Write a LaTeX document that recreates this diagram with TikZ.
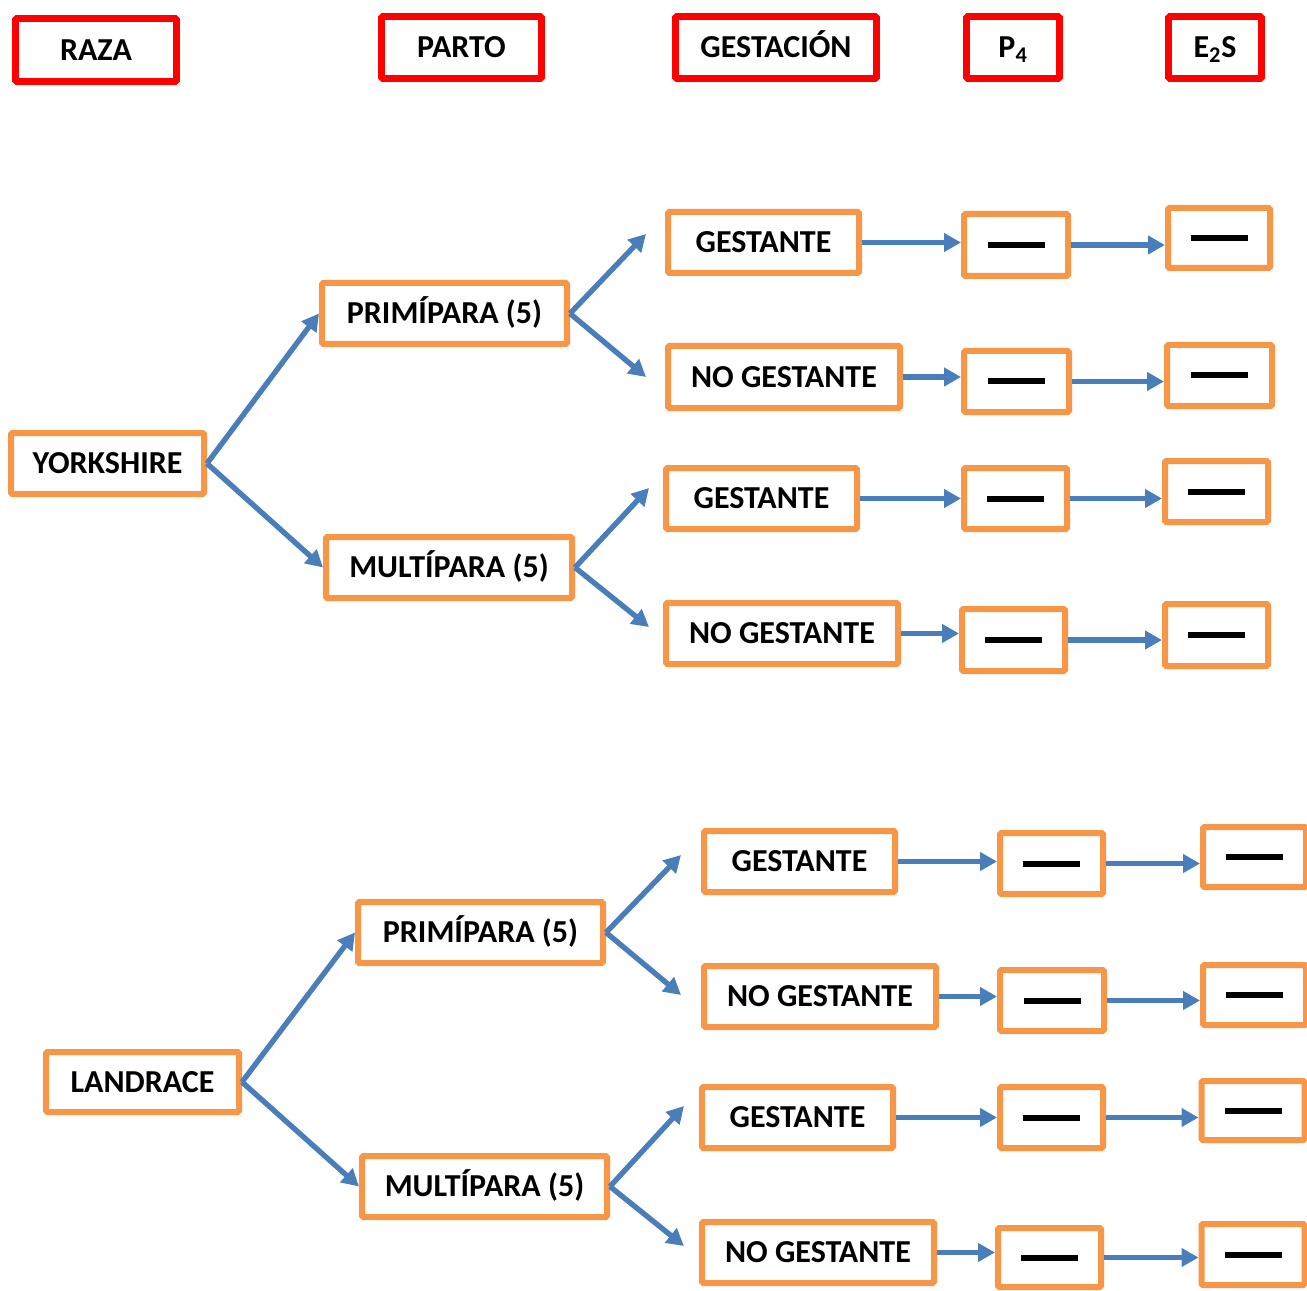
\documentclass[tikz,border=0pt]{standalone}
\usepackage{fontspec}
\setmainfont{Carlito}
\usetikzlibrary{arrows.meta}
\definecolor{boxorange}{HTML}{F79646}
\definecolor{boxred}{HTML}{FF0000}
\definecolor{arrowblue}{HTML}{4A7EBB}
\newcommand{\mydashbar}{\rule{42.75pt}{4.5pt}}
\tikzset{
  lbl/.style={font=\bfseries\fontsize{24}{28}\selectfont, text height=15.4pt, text depth=0pt},
  hbox/.style={lbl, draw=boxred, line width=4.9pt, inner sep=0pt, rounded corners=1pt},
  obox/.style={lbl, draw=boxorange, line width=4.5pt, inner sep=0pt, rounded corners=1pt},
  dbox/.style={draw=boxorange, line width=4.5pt, inner sep=0pt, rounded corners=1pt},
  conn/.style={draw=arrowblue, line width=4pt, -{Triangle[length=12.75pt,width=13.5pt]}},
  sz/.style 2 args={minimum width=(#1-1)*0.75pt, minimum height=(#2-1)*0.75pt}
}
\begin{document}
\begin{tikzpicture}[x=0.75pt,y=-0.75pt]
\fill[white] (0,0) rectangle (1307,1291);
\useasboundingbox (0,0) rectangle (1307,1291);
% headers
\node[hbox, sz={162}{64}] (hraza) at (96,50) {RAZA};
\node[hbox, sz={161}{63}] (hparto) at (461.5,47.5) {PARTO};
\node[hbox, sz={202}{63}] (hgest) at (776,47.5) {GESTACIÓN};
\node[hbox, sz={94}{63}] (hp) at (1013,47.5) {P\textsubscript{4}};
\node[hbox, sz={94}{63}] (he) at (1215,47.5) {E\textsubscript{2}S};
% Yorkshire group
\node[obox, sz={194}{62}] (york) at (107.5,463.5) {YORKSHIRE};
\node[obox, sz={246}{62}] (prim1) at (444.5,313.5) {PRIMÍPARA (5)};
\node[obox, sz={247}{62}] (mult1) at (449,567.5) {MULTÍPARA (5)};
\node[obox, sz={192}{62}] (g1a) at (763.5,242.5) {GESTANTE};
\node[obox, sz={233}{63}] (n1a) at (784,377) {NO GESTANTE};
\node[obox, sz={192}{62}] (g1b) at (761.5,498.5) {GESTANTE};
\node[obox, sz={233}{62}] (n1b) at (782,633.5) {NO GESTANTE};
\node[dbox, sz={105}{63}] (p1a) at (1016,245) {\mydashbar};
\node[dbox, sz={106}{62}] (p1b) at (1016.5,381.5) {\mydashbar};
\node[dbox, sz={104}{62}] (p1c) at (1015.5,498.5) {\mydashbar};
\node[dbox, sz={104}{63}] (p1d) at (1013.5,640) {\mydashbar};
\node[dbox, sz={103}{61}] (e1a) at (1219,238) {\mydashbar};
\node[dbox, sz={106}{62}] (e1b) at (1219.5,375.5) {\mydashbar};
\node[dbox, sz={104}{62}] (e1c) at (1216.5,491.5) {\mydashbar};
\node[dbox, sz={104}{63}] (e1d) at (1216.5,635) {\mydashbar};
% Landrace group
\node[obox, sz={194}{61}] (land) at (142.5,1082) {LANDRACE};
\node[obox, sz={246}{62}] (prim2) at (480.5,932.5) {PRIMÍPARA (5)};
\node[obox, sz={246}{62}] (mult2) at (484.5,1186.5) {MULTÍPARA (5)};
\node[obox, sz={192}{62}] (g2a) at (799.5,861.5) {GESTANTE};
\node[obox, sz={233}{62}] (n2a) at (820,996.5) {NO GESTANTE};
\node[obox, sz={192}{62}] (g2b) at (797.5,1117.5) {GESTANTE};
\node[obox, sz={233}{62}] (n2b) at (818,1252.5) {NO GESTANTE};
\node[dbox, sz={104}{62}] (p2a) at (1051.5,863.5) {\mydashbar};
\node[dbox, sz={105}{62}] (p2b) at (1052,1000.5) {\mydashbar};
\node[dbox, sz={104}{62}] (p2c) at (1051.5,1117.5) {\mydashbar};
\node[dbox, sz={104}{60}] (p2d) at (1049.5,1257.5) {\mydashbar};
\node[dbox, sz={104}{61}] (e2a) at (1254.5,857) {\mydashbar};
\node[dbox, sz={104}{61}] (e2b) at (1254.5,995) {\mydashbar};
\node[dbox, sz={104}{60}] (e2c) at (1253,1110.5) {\mydashbar};
\node[dbox, sz={104}{62}] (e2d) at (1253,1254.5) {\mydashbar};
% free arrow tips
\coordinate (t1a) at (646,234);
\coordinate (t1b) at (646,377);
\coordinate (t1c) at (649,488);
\coordinate (t1d) at (649,627);
\coordinate (t2a) at (681,855);
\coordinate (t2b) at (681,995);
\coordinate (t2c) at (684,1106);
\coordinate (t2d) at (684,1246);
% connectors Yorkshire
\draw[conn] (york.east) -- (prim1.west);
\draw[conn] (york.east) -- (mult1.west);
\draw[conn] (prim1.east) -- (t1a);
\draw[conn] (prim1.east) -- (t1b);
\draw[conn] (mult1.east) -- (t1c);
\draw[conn] (mult1.east) -- (t1d);
\draw[conn] (g1a.east) -- (g1a.east -| p1a.west);
\draw[conn] (n1a.east) -- (n1a.east -| p1b.west);
\draw[conn] (g1b.east) -- (g1b.east -| p1c.west);
\draw[conn] (n1b.east) -- (n1b.east -| p1d.west);
\draw[conn] (p1a.east) -- (p1a.east -| e1a.west);
\draw[conn] (p1b.east) -- (p1b.east -| e1b.west);
\draw[conn] (p1c.east) -- (p1c.east -| e1c.west);
\draw[conn] (p1d.east) -- (p1d.east -| e1d.west);
% connectors Landrace
\draw[conn] (land.east) -- (prim2.west);
\draw[conn] (land.east) -- (mult2.west);
\draw[conn] (prim2.east) -- (t2a);
\draw[conn] (prim2.east) -- (t2b);
\draw[conn] (mult2.east) -- (t2c);
\draw[conn] (mult2.east) -- (t2d);
\draw[conn] (g2a.east) -- (g2a.east -| p2a.west);
\draw[conn] (n2a.east) -- (n2a.east -| p2b.west);
\draw[conn] (g2b.east) -- (g2b.east -| p2c.west);
\draw[conn] (n2b.east) -- (n2b.east -| p2d.west);
\draw[conn] (p2a.east) -- (p2a.east -| e2a.west);
\draw[conn] (p2b.east) -- (p2b.east -| e2b.west);
\draw[conn] (p2c.east) -- (p2c.east -| e2c.west);
\draw[conn] (p2d.east) -- (p2d.east -| e2d.west);
\end{tikzpicture}
\end{document}
